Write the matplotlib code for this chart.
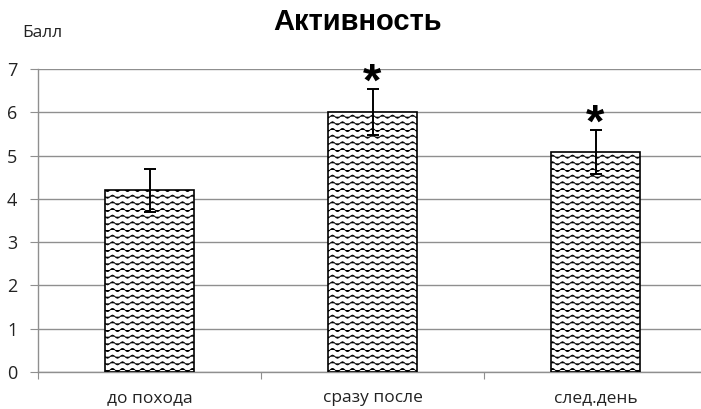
import warnings
import numpy as np
import matplotlib
matplotlib.use("Agg")
import matplotlib.pyplot as plt
import matplotlib.hatch as mhatch
from matplotlib.path import Path

warnings.filterwarnings("ignore")

# ---- data ----
categories = ["до похода", "сразу после", "след.день"]
values = [4.2, 6.0, 5.08]
errors = [0.5, 0.53, 0.5]
marks = ["", "*", "*"]
y_ticks = [0, 1, 2, 3, 4, 5, 6, 7]
title = "Активность"
y_label = "Балл"


# ---- custom wavy hatch ----
class WaveHatch(mhatch.HatchPatternBase):
    def __init__(self, hatch, density):
        self.num_rows = int(round(hatch.count('~') * density * 1.25))
        self.periods = 10
        self.seg = self.periods * 8
        self.num_vertices = self.num_rows * (self.seg + 1)

    def set_vertices_and_codes(self, vertices, codes):
        xs = np.linspace(0.0, 1.0, self.seg + 1)
        ys = 0.016 * np.sin(2 * np.pi * self.periods * xs)
        rows = (np.arange(self.num_rows) + 0.5) / max(self.num_rows, 1)
        n = self.seg + 1
        for i, r in enumerate(rows):
            vertices[i * n:(i + 1) * n, 0] = xs
            vertices[i * n:(i + 1) * n, 1] = r + ys
            codes[i * n] = Path.MOVETO
            codes[i * n + 1:(i + 1) * n] = Path.LINETO


mhatch._hatch_types.append(WaveHatch)

plt.rcParams["hatch.linewidth"] = 0.6
plt.rcParams["hatch.color"] = "#3a3a3a"

W, H = 701, 409
fig = plt.figure(figsize=(W / 100, H / 100), dpi=100)
ax = fig.add_axes([38 / W, 37 / H, 669 / W, 303 / H])

x = np.arange(len(categories))
bars = ax.bar(x, values, width=0.4, color="white", edgecolor="black",
              linewidth=1.2, hatch="~~", zorder=3)
ax.errorbar(x, values, yerr=errors, fmt="none", ecolor="black",
            elinewidth=1.4, capsize=4, capthick=1.4, zorder=4)

for xi, v, e, m in zip(x, values, errors, marks):
    if m:
        ax.text(xi, v + e - 0.14, m, ha="center", va="baseline",
                fontsize=34, fontweight="bold", family="Liberation Sans",
                color="black", zorder=5)

grid_c = "#8f8f8f"
ax.set_xlim(-0.5, len(categories) - 0.5)
ax.set_ylim(0, 7)
ax.set_yticks(y_ticks)
ax.yaxis.grid(True, color=grid_c, linewidth=1.0, zorder=0)
ax.set_axisbelow(True)
for s in ["top", "right"]:
    ax.spines[s].set_visible(False)
ax.spines["left"].set_color(grid_c)
ax.spines["bottom"].set_color(grid_c)
ax.spines["left"].set_linewidth(1.0)
ax.spines["bottom"].set_linewidth(1.0)

# major x ticks at category boundaries, labels at centers
ax.set_xticks(np.arange(len(categories) + 1) - 0.5)
ax.set_xticklabels([])
ax.set_xticks(x, minor=True)
ax.set_xticklabels(categories, minor=True, fontsize=12.5, family="Open Sans",
                   color="#222222")
ax.tick_params(axis="x", which="major", length=5, color=grid_c, direction="out")
ax.tick_params(axis="x", which="minor", length=0, pad=13)
ax.tick_params(axis="y", length=6, color=grid_c, direction="out", pad=9,
               labelsize=13, labelcolor="#222222")
for lab in ax.get_yticklabels():
    lab.set_family("Open Sans")

fig.text(358 / W, 1 - 22 / H, title, ha="center", va="center",
         fontsize=21, fontweight="bold", family="Liberation Sans")
fig.text(42 / W, 1 - 33 / H, y_label, ha="center", va="center",
         fontsize=12.5, family="Open Sans", color="#222222")

fig.savefig("out.png", dpi=100)
